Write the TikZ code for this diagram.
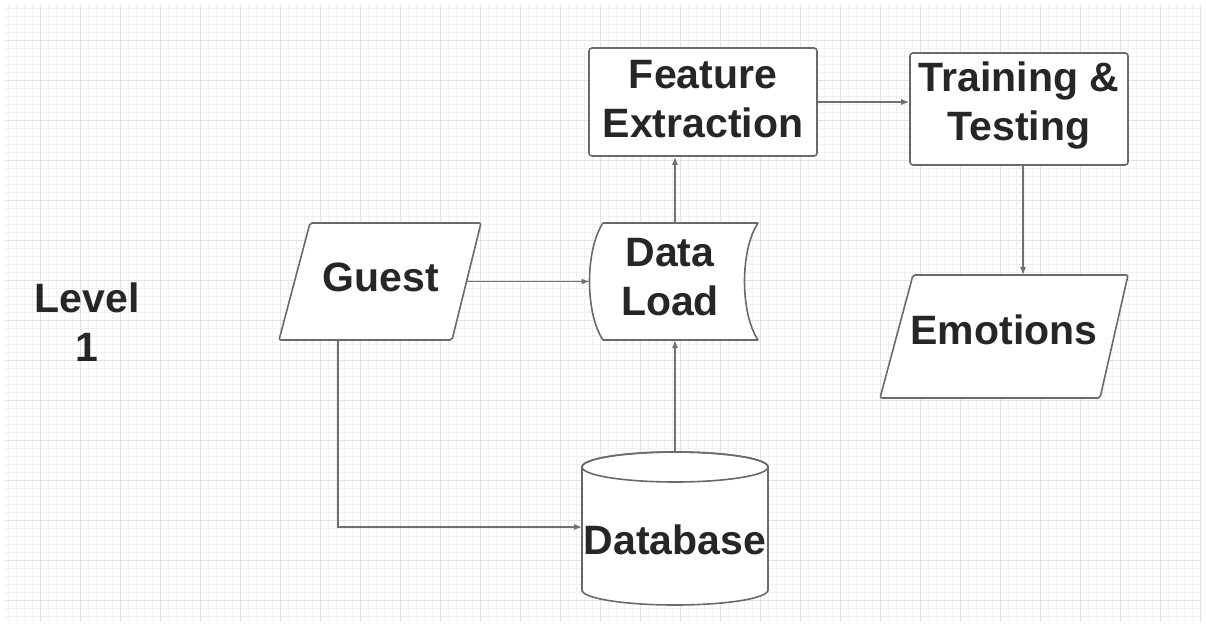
\documentclass[tikz,border=0pt]{standalone}
\usepackage{fontspec}
\setmainfont{Liberation Sans}
\usetikzlibrary{arrows.meta,calc}
\definecolor{ink}{HTML}{262626}
\definecolor{outline}{HTML}{6A6A6A}
\definecolor{wire}{HTML}{707070}
\definecolor{gridminor}{HTML}{F0F0F0}
\definecolor{gridmajor}{HTML}{E2E2E2}
\tikzset{
  big/.style={font=\fontsize{41}{49}\selectfont\bfseries, text=ink, align=center, inner sep=0},
  frame/.style={draw=none, inner sep=0, outer sep=0},
  shapeline/.style={draw=outline, line width=1.6, fill=white, line join=round},
  flow/.style={draw=wire, line width=1.3, -{Latex[length=8,width=6]}},
}
\begin{document}
\begin{tikzpicture}[x=1pt,y=-1pt]
  % page and background grid
  \fill[white] (0,0) rectangle (1206,628);
  \foreach \x in {8,16,...,1200} \draw[gridminor, line width=0.6] (\x,5) -- (\x,622);
  \foreach \y in {8,16,...,616} \draw[gridminor, line width=0.6] (5,\y) -- (1202,\y);
  \foreach \x in {40,80,...,1200} \draw[gridmajor, line width=0.8] (\x,5) -- (\x,622);
  \foreach \y in {40,80,...,600} \draw[gridmajor, line width=0.8] (5,\y) -- (1202,\y);
  \useasboundingbox (0,0) rectangle (1206,628);

  % title
  \node[big] (level) at (87,322) {Level\\1};

  % Guest (input parallelogram)
  \node[frame, minimum width=172, minimum height=117] (guest) at (380,281.5) {};
  \draw[shapeline, rounded corners=2] (310,223) -- (481,223) -- (452,340) -- (279,340) -- cycle;
  \node[big] (guestlabel) at (381,277) {Guest};

  % Data Load (stored data)
  \node[frame, minimum width=171, minimum height=117] (load) at (675,281.5) {};
  \draw[shapeline] (603,223) -- (758,223) .. controls (740,250) and (740,313) .. (758,340)
        -- (603,340) .. controls (585,313) and (585,250) .. (603,223) -- cycle;
  \node[big] (loadlabel) at (670,277) {Data\\Load};

  % Database (cylinder); y grows downwards, so arcs through 90 deg bend down
  \node[frame, minimum width=186, minimum height=152] (db) at (675,528) {};
  \draw[shapeline] (582,467) -- (582,590) arc[start angle=180, end angle=0, x radius=93, y radius=15]
        -- (768,467) arc[start angle=0, end angle=-180, x radius=93, y radius=15] -- cycle;
  \draw[draw=outline, line width=1.6] (675,467) ellipse[x radius=93, y radius=15];
  \node[big] (dblabel) at (675,540) {Database};

  % Feature Extraction (process box)
  \node[shapeline, rounded corners=3, minimum width=228, minimum height=108] (feat) at (703,102) {};
  \node[big] (featlabel) at (703,99) {Feature\\Extraction};

  % Training & Testing (process box)
  \node[shapeline, rounded corners=3, minimum width=218, minimum height=112] (train) at (1019,109) {};
  \node[big] (trainlabel) at (1019,105) {Training \&\\Testing};

  % Emotions (output parallelogram)
  \node[frame, minimum width=220, minimum height=123] (emo) at (1004,336.5) {};
  \draw[shapeline, rounded corners=2] (913,275) -- (1128,275) -- (1100,398) -- (880,398) -- cycle;
  \node[big] (emolabel) at (1004,330) {Emotions};

  % connectors
  \draw[flow] (guest.east) -- (load.west);
  \draw[flow] ([xshift=-42]guest.south) |- (db.west |- 0,527);
  \draw[flow] (db.north) -- (load.south);
  \draw[flow] (load.north) -- (load.north |- feat.south);
  \draw[flow] (feat.east) -- (feat.east -| train.west);
  \draw[flow] ([xshift=4]train.south) -- ([xshift=4]train.south |- emo.north);
\end{tikzpicture}
\end{document}
